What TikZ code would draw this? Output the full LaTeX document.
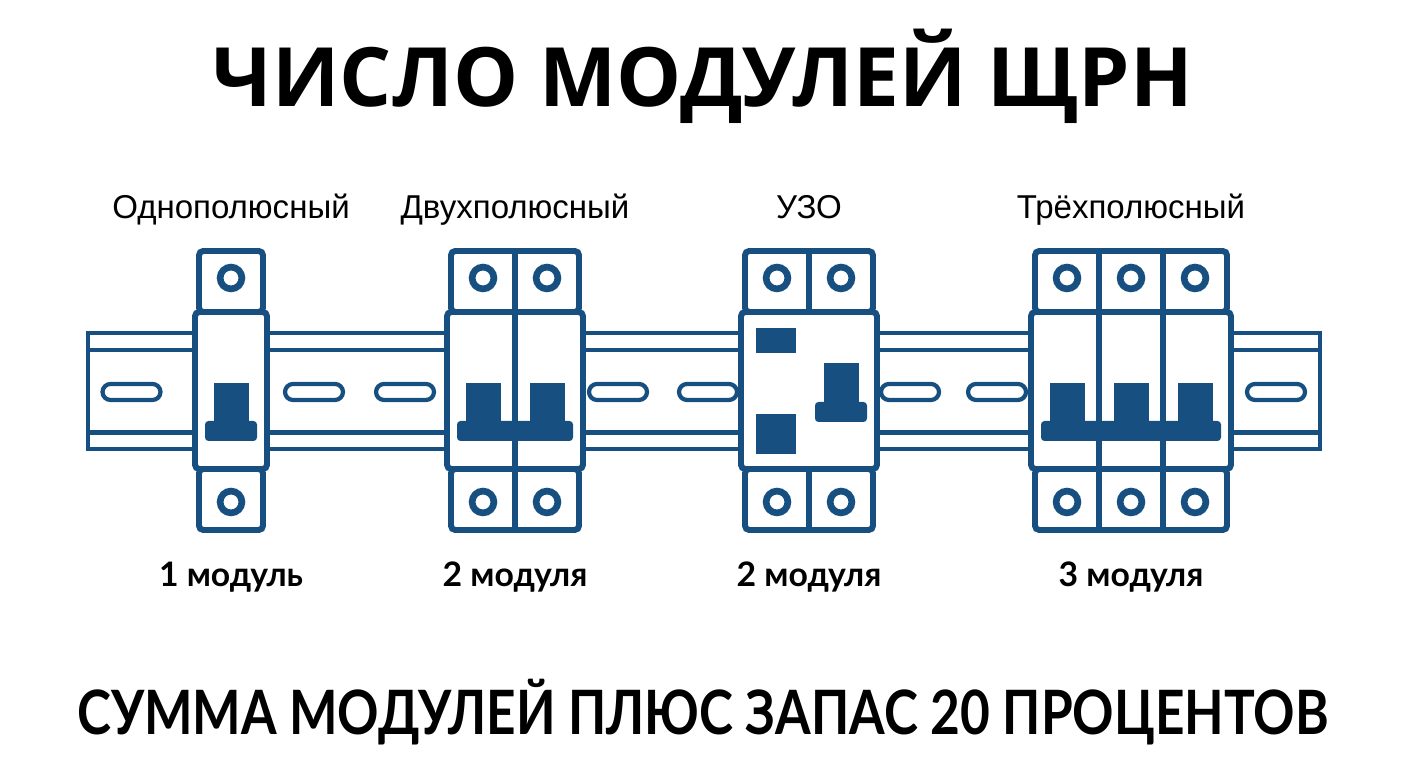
\documentclass[tikz,border=0pt]{standalone}
\usepackage{fontspec}
\setmainfont{Liberation Sans}
\newfontfamily\headfont{Open Sans}
\newfontfamily\notefont{Lato}
\newfontfamily\totalfont{Lato}[FakeStretch=0.84]
\usepackage{tikz}

\begin{document}
\begin{tikzpicture}[
		frame/.style={line width=1.7pt,color=qqblue,fill=white,rounded corners=1.2pt},
		split/.style={line width=1.7pt,color=qqblue},
		rail/.style={line width=1.3pt,color=qqblue},
		slot/.style={line width=1.2pt,color=qqblue,rounded corners=0.08cm},
		term/.style={line width=1.9pt,color=qqblue},
		knob/.style={fill=qqblue},
		kind/.style={anchor=base,font=\fontsize{9.4}{12}\selectfont},
		size/.style={anchor=base,font=\notefont\bfseries\fontsize{9.6}{12}\selectfont}]
				\definecolor{qqblue}{rgb}{0.09,0.31,0.50}
				\useasboundingbox (0.,0.) rectangle (14.08,7.68);
				
				% DIN rail
				\draw[rail] (0.88,3.19) rectangle (13.20,4.35);
				\draw[rail] (0.88,4.18) -- (13.20,4.18);
				\draw[rail] (0.88,3.355) -- (13.20,3.355);
				\draw[slot] (1.025,3.68) rectangle (1.605,3.84);
				\draw[slot] (2.85,3.68) rectangle (3.43,3.84);
				\draw[slot] (3.76,3.68) rectangle (4.34,3.84);
				\draw[slot] (5.89,3.68) rectangle (6.47,3.84);
				\draw[slot] (6.79,3.68) rectangle (7.37,3.84);
				\draw[slot] (8.81,3.68) rectangle (9.39,3.84);
				\draw[slot] (9.68,3.68) rectangle (10.26,3.84);
				\draw[slot] (12.47,3.68) rectangle (13.05,3.84);
				
				% single pole
				\draw[frame] (1.99,4.56) rectangle (2.63,5.17);
				\draw[frame] (1.99,2.38) rectangle (2.63,2.99);
				\draw[frame] (1.95,2.99) rectangle (2.67,4.56);
				\draw[term] (2.31,4.90) circle (0.109);
				\draw[term] (2.31,2.66) circle (0.109);
				\fill[knob] (2.135,3.47) rectangle (2.485,3.85);
				\fill[knob,rounded corners=1pt] (2.05,3.27) rectangle (2.57,3.47);
				
				% two poles
				\draw[frame] (4.51,4.56) rectangle (5.79,5.17);
				\draw[frame] (4.51,2.38) rectangle (5.79,2.99);
				\draw[frame] (4.47,2.99) rectangle (5.83,4.56);
				\draw[split] (5.15,2.38) -- (5.15,5.17);
				\draw[term] (4.83,4.90) circle (0.109);
				\draw[term] (5.47,4.90) circle (0.109);
				\draw[term] (4.83,2.66) circle (0.109);
				\draw[term] (5.47,2.66) circle (0.109);
				\fill[knob] (4.655,3.47) rectangle (5.005,3.85);
				\fill[knob] (5.295,3.47) rectangle (5.645,3.85);
				\fill[knob,rounded corners=1pt] (4.57,3.27) rectangle (5.73,3.47);
				
				% RCD
				\draw[frame] (7.45,4.56) rectangle (8.73,5.17);
				\draw[frame] (7.45,2.38) rectangle (8.73,2.99);
				\draw[frame] (7.41,2.99) rectangle (8.77,4.56);
				\draw[split] (8.09,4.56) -- (8.09,5.17);
				\draw[split] (8.09,2.38) -- (8.09,2.99);
				\draw[term] (7.77,4.90) circle (0.109);
				\draw[term] (8.41,4.90) circle (0.109);
				\draw[term] (7.77,2.66) circle (0.109);
				\draw[term] (8.41,2.66) circle (0.109);
				\fill[knob] (7.56,4.15) rectangle (7.96,4.40);
				\fill[knob] (7.56,3.14) rectangle (7.96,3.54);
				\fill[knob] (8.235,3.65) rectangle (8.585,4.05);
				\fill[knob,rounded corners=1pt] (8.15,3.46) rectangle (8.67,3.66);
				
				% three poles
				\draw[frame] (10.35,4.56) rectangle (12.27,5.17);
				\draw[frame] (10.35,2.38) rectangle (12.27,2.99);
				\draw[frame] (10.31,2.99) rectangle (12.31,4.56);
				\draw[split] (10.99,2.38) -- (10.99,5.17);
				\draw[split] (11.63,2.38) -- (11.63,5.17);
				\draw[term] (10.67,4.90) circle (0.109);
				\draw[term] (11.31,4.90) circle (0.109);
				\draw[term] (11.95,4.90) circle (0.109);
				\draw[term] (10.67,2.66) circle (0.109);
				\draw[term] (11.31,2.66) circle (0.109);
				\draw[term] (11.95,2.66) circle (0.109);
				\fill[knob] (10.495,3.47) rectangle (10.845,3.85);
				\fill[knob] (11.135,3.47) rectangle (11.485,3.85);
				\fill[knob] (11.775,3.47) rectangle (12.125,3.85);
				\fill[knob,rounded corners=1pt] (10.41,3.27) rectangle (12.21,3.47);
				
				% texts
				\draw (7.03,6.61) node[anchor=base,font=\headfont\bfseries\fontsize{23.3}{27}\selectfont] (title) {ЧИСЛО МОДУЛЕЙ ЩРН};
				
				\draw (2.31,5.49) node[kind] (kind1) {Однополюсный};
				\draw (5.15,5.49) node[kind] (kind2) {Двухполюсный};
				\draw (8.09,5.49) node[kind] (kind3) {УЗО};
				\draw (11.31,5.49) node[kind] (kind4) {Трёхполюсный};
				
				\draw (2.31,1.81) node[size] (size1) {1 модуль};
				\draw (5.15,1.81) node[size] (size2) {2 модуля};
				\draw (8.09,1.81) node[size] (size3) {2 модуля};
				\draw (11.31,1.81) node[size] (size4) {3 модуля};
				
				\draw (7.03,0.335) node[anchor=base,font=\totalfont\bfseries\fontsize{17.4}{20}\selectfont] (total) {СУММА МОДУЛЕЙ ПЛЮС ЗАПАС 20 ПРОЦЕНТОВ};
			\end{tikzpicture}
\end{document}
